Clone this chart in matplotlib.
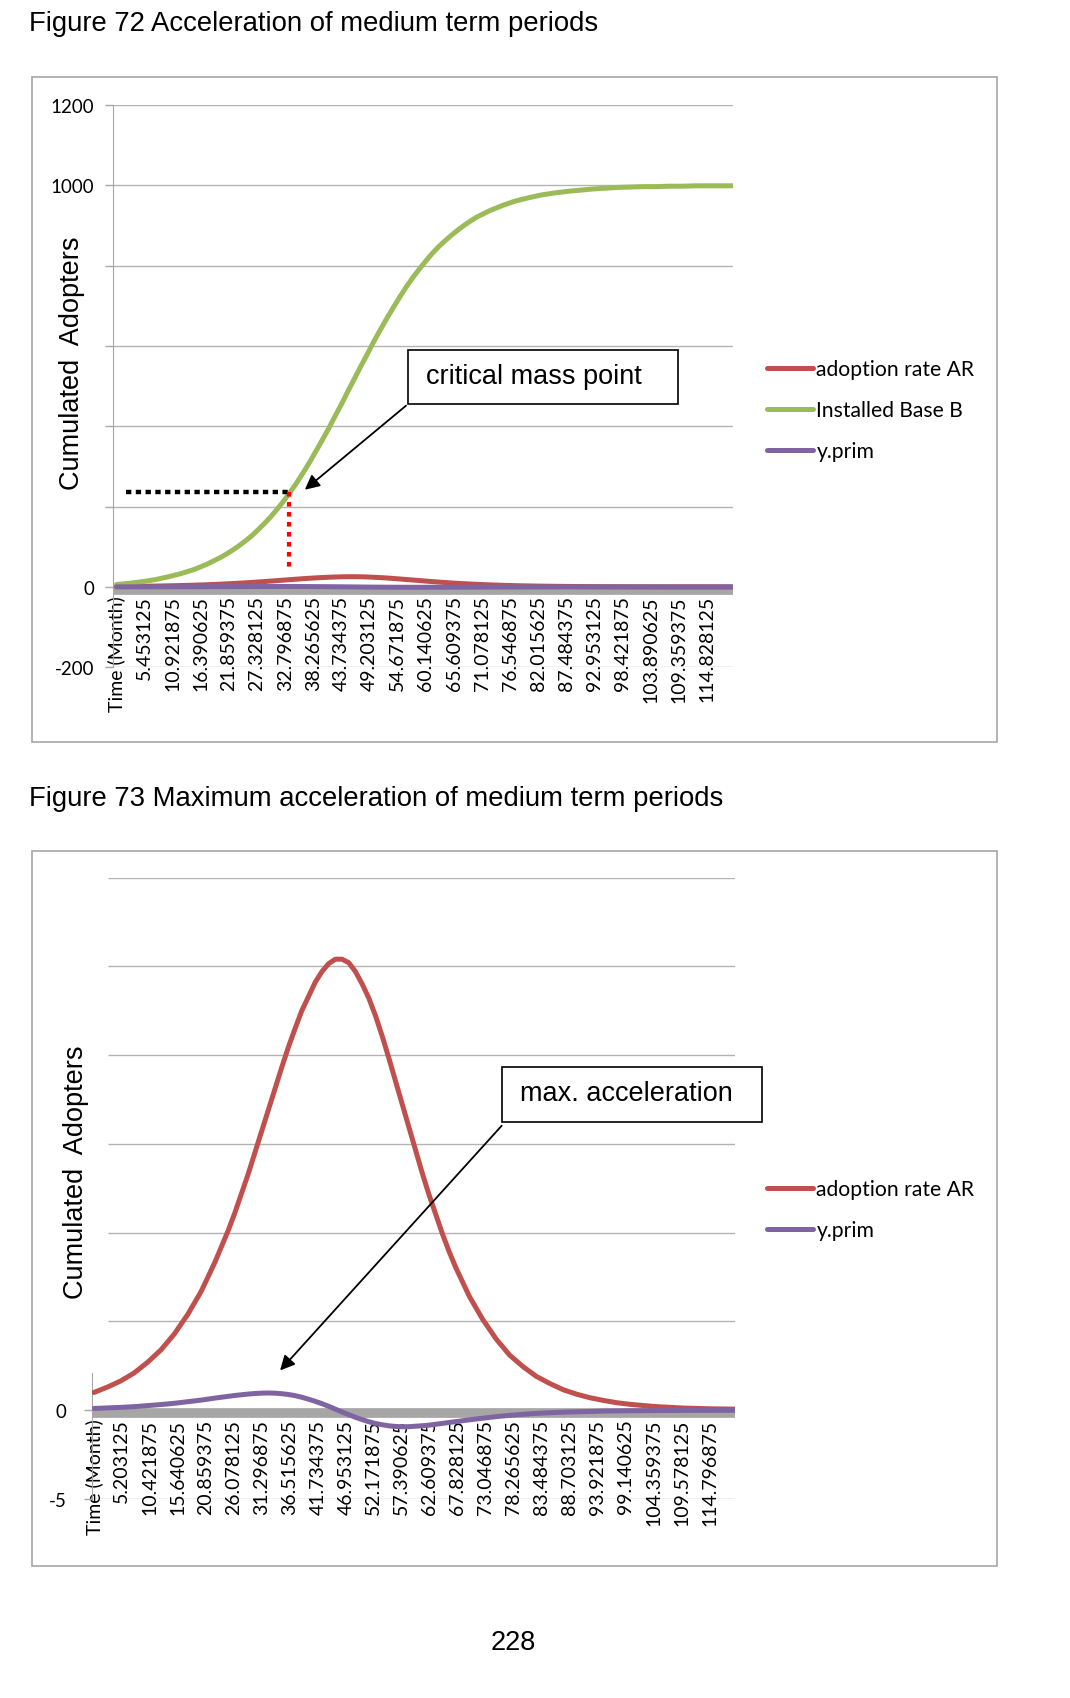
import matplotlib
matplotlib.use('Agg')
import matplotlib.pyplot as plt
import matplotlib.transforms as mtransforms
from matplotlib.lines import Line2D
from matplotlib.patches import Rectangle

# readings (months; denser around the peak)
months = [0, 2.5, 5, 7.5, 10, 12.5, 15, 17.5, 20,
          21.25, 22.5, 23.75, 25, 26.25, 27.5, 28.75, 30, 31.25, 32.5, 33.75, 35, 36.25, 37.5, 38.75, 40,
          41.25, 42.5, 43.75, 45, 46.25, 47.5, 48.75, 50, 51.25, 52.5, 53.75, 55, 56.25, 57.5, 58.75, 60,
          61.25, 62.5, 63.75, 65, 66.25, 67.5, 68.75, 70,
          72.5, 75, 77.5, 80, 82.5, 85, 87.5, 90, 92.5, 95, 97.5, 100, 102.5, 105, 107.5, 110, 112.5,
          115, 117.5, 120]
installed_base = [6, 9, 13, 18, 25, 33, 43, 56, 72,
                  81, 91, 102, 114, 127, 142, 158, 175, 194, 214, 236, 259, 284, 310, 338, 366,
                  395, 426, 456, 488, 519, 550, 580, 611, 640, 668, 695, 721, 746, 769, 790, 810,
                  829, 846, 861, 875, 888, 900, 911, 921,
                  937, 950, 961, 969, 976, 981, 985, 988, 991, 993, 995, 996, 997, 997, 998, 998, 999,
                  999, 999, 999]
adoption_rate = [1.0, 1.3, 1.65, 2.1, 2.7, 3.4, 4.3, 5.4, 6.7,
                 7.5, 8.3, 9.2, 10.1, 11.1, 12.2, 13.3, 14.5, 15.7, 16.9, 18.1, 19.3, 20.45, 21.5, 22.5, 23.3,
                 24.1, 24.7, 25.15, 25.4, 25.4, 25.2, 24.7, 24.0, 23.2, 22.2, 21.05, 19.8, 18.5, 17.2, 15.9, 14.6,
                 13.3, 12.1, 11.0, 9.9, 8.9, 8.0, 7.2, 6.4,
                 5.1, 4.0, 3.1, 2.45, 1.9, 1.5, 1.15, 0.9, 0.7, 0.55, 0.42, 0.33, 0.26, 0.2, 0.16, 0.12, 0.1,
                 0.08, 0.07, 0.06]
y_prim = [0.10, 0.13, 0.16, 0.20, 0.26, 0.32, 0.39, 0.48, 0.57,
          0.625, 0.68, 0.73, 0.78, 0.83, 0.87, 0.91, 0.94, 0.96, 0.97, 0.96, 0.93, 0.885, 0.82, 0.73, 0.62,
          0.50, 0.37, 0.22, 0.06, -0.10, -0.25, -0.40, -0.53, -0.65, -0.75, -0.82, -0.88, -0.915, -0.93, -0.925, -0.90,
          -0.875, -0.84, -0.79, -0.74, -0.69, -0.64, -0.59, -0.54,
          -0.45, -0.36, -0.29, -0.23, -0.18, -0.14, -0.11, -0.09, -0.07, -0.05, -0.04, -0.03, -0.025, -0.02, -0.016, -0.012, -0.01,
          -0.008, -0.007, -0.006]

labels_72 = ['Time (Month)', '5.453125', '10.921875', '16.390625', '21.859375', '27.328125',
             '32.796875', '38.265625', '43.734375', '49.203125', '54.671875', '60.140625',
             '65.609375', '71.078125', '76.546875', '82.015625', '87.484375', '92.953125',
             '98.421875', '103.890625', '109.359375', '114.828125']
labels_73 = ['Time (Month)', '5.203125', '10.421875', '15.640625', '20.859375', '26.078125',
             '31.296875', '36.515625', '41.734375', '46.953125', '52.171875', '57.390625',
             '62.609375', '67.828125', '73.046875', '78.265625', '83.484375', '88.703125',
             '93.921875', '99.140625', '104.359375', '109.578125', '114.796875']

yticks_72 = [-200, 0, 200, 400, 600, 800, 1000, 1200]
ylabels_72 = ['-200', '0', '', '', '', '', '1000', '1200']
grid_73 = [-5, 5, 10, 15, 20, 25, 30]

crit_t, crit_b = 33.6, 237      # critical mass point
crit_foot = 49
max_acc_t, max_acc_v = 34.7, 2.24

RED, GREEN, PURPLE = '#c0504d', '#9bbb59', '#8064a2'
GRID, AXIS = '#b3b3b3', '#a6a6a6'

W, H = 1070, 1699
fig = plt.figure(figsize=(W / 100, H / 100), dpi=100)


def fx(x):
    return x / W


def fy(y):
    return 1 - y / H


def tick_pos(labels):
    return [0] + [float(s) for s in labels[1:]]


def setup_axis(ax, labels, left_lim, right_lim):
    ax.set_xlim(left_lim, right_lim)
    for s in ['top', 'right']:
        ax.spines[s].set_visible(False)
    ax.spines['left'].set_color(AXIS)
    ax.spines['bottom'].set_position(('data', 0))
    ax.spines['bottom'].set_color('none')
    ax.set_xticks(tick_pos(labels))
    ax.set_xticklabels(labels, rotation=90, fontsize=14, family='Lato')
    ax.tick_params(axis='x', length=0, pad=6)
    ax.tick_params(axis='y', length=6, width=1, color=AXIS, labelsize=13.5)
    for t in ax.get_yticklabels():
        t.set_family('Lato')
    # thick grey horizontal axis sitting under the zero value
    band = mtransforms.blended_transform_factory(ax.transAxes, ax.transData) + \
        mtransforms.ScaledTranslation(0, -0.028, fig.dpi_scale_trans)
    ax.plot([0, 1], [0, 0], color=AXIS, lw=7, transform=band, zorder=1.5)


def box_note(x0, y0, x1, y1, text, tx, ty):
    fig.add_artist(Rectangle((fx(x0), fy(y1)), fx(x1) - fx(x0), (y1 - y0) / H,
                             transform=fig.transFigure, facecolor='white',
                             edgecolor='black', lw=1.2, zorder=5))
    fig.text(fx(tx), fy(ty), text, ha='left', va='center', fontsize=19.5,
             family='Liberation Sans', zorder=6)


def add_legend(handles, names, center_y):
    fig.legend(handles, names, loc='center left',
               bbox_to_anchor=(fx(766.7), fy(center_y)), frameon=False, borderpad=0,
               borderaxespad=0, handlelength=2.2, handletextpad=0.15, labelspacing=1.0,
               prop={'family': 'Lato', 'size': 15.2})


# ---------------- Figure 72 ----------------
fig.text(fx(29), fy(24), 'Figure 72 Acceleration of medium term periods', ha='left', va='center',
         fontsize=19.8, family='Liberation Sans')
fig.add_artist(Rectangle((fx(32), fy(743)), fx(997) - fx(32), (743 - 78) / H,
                         transform=fig.transFigure, fill=False, edgecolor=AXIS, lw=1.2))

ax1 = fig.add_axes([fx(113.4), fy(668.2), fx(733) - fx(113.4), (668.2 - 106.1) / H])
ax1.set_ylim(-200, 1200)
ax1.set_yticks(yticks_72)
ax1.set_yticklabels(ylabels_72)
ax1.tick_params(axis='y', pad=8)
ax1.grid(axis='y', color=GRID, lw=1)
ax1.set_axisbelow(True)
setup_axis(ax1, labels_72, -0.6, 119.8)

ax1.plot(months, adoption_rate, color=RED, lw=3.6, solid_capstyle='round', zorder=3)
ax1.plot(months, installed_base, color=GREEN, lw=3.6, solid_capstyle='round', zorder=3)
ax1.plot(months, y_prim, color=PURPLE, lw=3.6, solid_capstyle='round', zorder=3)

ax1.plot([1.9, crit_t], [crit_b, crit_b], color='black', lw=3.2, dashes=(1.2, 1.0),
         dash_capstyle='butt', zorder=4)
ax1.plot([crit_t, crit_t], [crit_b, crit_foot], color='#ff0000', lw=3.0, dashes=(1.1, 1.3),
         dash_capstyle='butt', zorder=4)

ax1.annotate('', xy=(crit_t + 3.0, crit_b + 5), xycoords='data',
             xytext=(406, H - 406.7), textcoords='figure pixels',
             arrowprops=dict(arrowstyle='-|>', color='black', lw=1.3,
                             shrinkA=0, shrinkB=0, mutation_scale=22), zorder=6)
box_note(407.7, 350.7, 678.3, 405.3, 'critical mass point', 426, 377)

fig.text(fx(72), fy(363), 'Cumulated  Adopters', rotation=90, ha='center', va='center',
         fontsize=19.5, family='Liberation Sans')

handles1 = [Line2D([], [], color=c, lw=3.6, solid_capstyle='round') for c in (RED, GREEN, PURPLE)]
add_legend(handles1, ['adoption rate AR', 'Installed Base B', 'y.prim'], 411)

# ---------------- Figure 73 ----------------
fig.text(fx(29), fy(799), 'Figure 73 Maximum acceleration of medium term periods', ha='left',
         va='center', fontsize=19.8, family='Liberation Sans')
fig.add_artist(Rectangle((fx(32), fy(1567)), fx(997) - fx(32), (1567 - 852) / H,
                         transform=fig.transFigure, fill=False, edgecolor=AXIS, lw=1.2))

ax2 = fig.add_axes([fx(91.8), fy(1500), fx(735) - fx(91.8), (1500 - 878.5) / H])
ax2.set_ylim(-5, 30)
ax2.set_yticks([-5, 0])
ax2.set_yticklabels(['-5', '0'])
ax2.tick_params(axis='y', pad=12)
ax2.spines['left'].set_bounds(-5, 2.1)
x_end2 = 119.5
for g in grid_73:
    ax2.hlines(g, -0.4 if g < 0 else 2.6, x_end2, color=GRID, lw=1, zorder=1)
setup_axis(ax2, labels_73, -0.4, x_end2)

ax2.plot(months, adoption_rate, color=RED, lw=3.6, solid_capstyle='round', zorder=3)
ax2.plot(months, y_prim, color=PURPLE, lw=3.6, solid_capstyle='round', zorder=3)

ax2.annotate('', xy=(max_acc_t, max_acc_v), xycoords='data',
             xytext=(501.7, H - 1126.7), textcoords='figure pixels',
             arrowprops=dict(arrowstyle='-|>', color='black', lw=1.3,
                             shrinkA=0, shrinkB=0, mutation_scale=22), zorder=6)
box_note(501.7, 1068, 762, 1123, 'max. acceleration', 520, 1094)

fig.text(fx(75.6), fy(1172), 'Cumulated  Adopters', rotation=90, ha='center', va='center',
         fontsize=19.5, family='Liberation Sans')

handles2 = [Line2D([], [], color=c, lw=3.6, solid_capstyle='round') for c in (RED, PURPLE)]
add_legend(handles2, ['adoption rate AR', 'y.prim'], 1210.5)

fig.text(fx(513), fy(1643), '228', ha='center', va='center', fontsize=19.5,
         family='Liberation Sans')

fig.savefig('out.png', dpi=100, facecolor='white')
